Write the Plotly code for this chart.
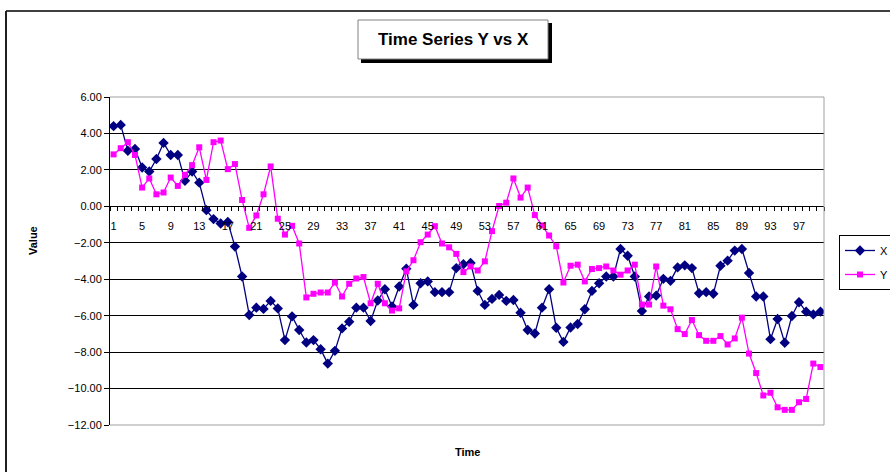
import plotly.graph_objects as go

time = list(range(1, 101))
x_series = [4.40, 4.47, 3.05, 3.15, 2.13, 1.91, 2.60, 3.48, 2.82, 2.82,
            1.40, 1.91, 1.30, -0.21, -0.70, -0.94, -0.86, -2.21, -3.85, -5.96,
            -5.56, -5.63, -5.19, -5.60, -7.34, -6.04, -6.79, -7.47, -7.34, -7.84,
            -8.63, -7.93, -6.70, -6.33, -5.56, -5.56, -6.29, -5.17, -4.55, -5.50,
            -4.40, -3.42, -5.41, -4.22, -4.12, -4.71, -4.71, -4.71, -3.39, -3.18,
            -3.11, -4.64, -5.41, -5.08, -4.86, -5.19, -5.14, -5.84, -6.79, -6.98,
            -5.56, -4.55, -6.66, -7.44, -6.65, -6.46, -5.65, -4.64, -4.22, -3.85,
            -3.85, -2.34, -2.71, -3.85, -5.74, -4.95, -4.90, -3.98, -4.09, -3.35,
            -3.24, -3.39, -4.77, -4.71, -4.80, -3.26, -2.98, -2.43, -2.34, -3.66,
            -4.95, -4.95, -7.29, -6.18, -7.49, -6.02, -5.26, -5.78, -5.93, -5.78]
y_series = [2.85, 3.19, 3.52, 2.82, 1.03, 1.53, 0.66, 0.76, 1.58, 1.12,
            1.73, 2.26, 3.24, 1.45, 3.52, 3.61, 2.04, 2.32, 0.35, -1.18,
            -0.50, 0.66, 2.19, -0.68, -1.55, -1.07, -2.04, -5.00, -4.80, -4.73,
            -4.73, -4.18, -4.95, -4.25, -3.96, -3.88, -5.32, -4.25, -5.32, -5.72,
            -5.60, -3.57, -2.96, -1.97, -1.55, -1.09, -2.04, -2.25, -2.61, -3.61,
            -3.30, -3.52, -3.02, -1.36, 0.02, 0.20, 1.53, 0.48, 1.03, -0.48,
            -1.05, -1.60, -2.19, -4.18, -3.26, -3.20, -4.12, -3.44, -3.39, -3.30,
            -3.52, -3.75, -3.52, -3.20, -5.39, -5.39, -3.30, -5.45, -5.65, -6.74,
            -7.01, -6.24, -7.07, -7.38, -7.38, -7.12, -7.58, -7.25, -6.11, -8.08,
            -9.15, -10.38, -10.23, -11.03, -11.17, -11.17, -10.75, -10.57, -8.63, -8.82]
x_tick_vals = list(range(1, 101, 4))
x_tick_text = [str(v) for v in x_tick_vals]
y_min, y_max, y_step = -12, 6, 2

FONT = "Liberation Sans, Arial, sans-serif"
W, H = 890, 472
L, R, T, B = 110, 66, 97, 47
pw, ph = W - L - R, H - T - B


def px(xp):
    return (xp - L) / pw


def py(yp):
    return (H - B - yp) / ph


fig = go.Figure()
fig.add_trace(go.Scatter(
    x=time, y=x_series, name="X", mode="lines+markers", legendgroup="a",
    line=dict(color="#000080", width=1.3),
    marker=dict(symbol="diamond", size=8, color="#000080")))
fig.add_trace(go.Scatter(
    x=time, y=y_series, name="Y", mode="lines+markers", legendgroup="b",
    line=dict(color="#FF00FF", width=1.3),
    marker=dict(symbol="square", size=6, color="#FF00FF")))

shapes = []
# outer chart frame (top and left)
shapes.append(dict(type="line", xref="paper", yref="paper", x0=px(6), x1=px(900),
                   y0=py(11), y1=py(11), line=dict(color="#404040", width=2)))
shapes.append(dict(type="line", xref="paper", yref="paper", x0=px(6), x1=px(6),
                   y0=py(11), y1=py(480), line=dict(color="#202020", width=2)))
# plot area border (top, right, bottom)
for (a, b, c, d) in [(0, 1, 1, 1), (1, 1, 1, 0), (0, 1, 0, 0)]:
    shapes.append(dict(type="line", xref="paper", yref="paper", x0=a, x1=b, y0=c, y1=d,
                       line=dict(color="#A0A0A0", width=1)))
# title box with shadow
shapes.append(dict(type="rect", xref="paper", yref="paper", x0=px(361), x1=px(552),
                   y0=py(63), y1=py(23), fillcolor="black", line=dict(width=0)))
shapes.append(dict(type="rect", xref="paper", yref="paper", x0=px(358), x1=px(548),
                   y0=py(59), y1=py(20), fillcolor="white", line=dict(color="#808080", width=1)))

annotations = [
    dict(text="<b>Time Series Y vs X</b>", xref="paper", yref="paper", x=px(453), y=py(40),
         showarrow=False, font=dict(family=FONT, size=17, color="black"),
         xanchor="center", yanchor="middle"),
    dict(text="<b>Value</b>", xref="paper", yref="paper", x=px(33), y=py(241),
         showarrow=False, textangle=-90, font=dict(family=FONT, size=11, color="black"),
         xanchor="center", yanchor="middle"),
    dict(text="<b>Time</b>", xref="paper", yref="paper", x=px(467), y=py(452),
         showarrow=False, font=dict(family=FONT, size=11, color="black"),
         xanchor="center", yanchor="middle"),
]

fig.update_layout(
    width=W, height=H,
    margin=dict(l=L, r=R, t=T, b=B, pad=0, autoexpand=False),
    paper_bgcolor="white", plot_bgcolor="white",
    showlegend=True,
    legend=dict(x=px(839), y=py(235), xanchor="left", yanchor="top",
                bordercolor="black", borderwidth=1, bgcolor="white",
                font=dict(family=FONT, size=11, color="black"),
                tracegroupgap=5),
    shapes=shapes,
    annotations=annotations,
    xaxis=dict(
        range=[0.5, 100.5], anchor="free", position=(0 - y_min) / (y_max - y_min),
        showgrid=False, zeroline=False, showline=True, linecolor="black", linewidth=1,
        tickmode="array", tickvals=x_tick_vals, ticktext=x_tick_text, ticks="",
        ticklabelstandoff=9,
        tickfont=dict(family=FONT, size=11, color="black"),
        minor=dict(tickmode="array", tickvals=[i + 0.5 for i in range(0, 101)],
                   ticks="outside", ticklen=4, tickcolor="black", tickwidth=1, showgrid=False),
    ),
    yaxis=dict(
        range=[y_min, y_max], tickmode="linear", tick0=y_min, dtick=y_step,
        tickformat=".2f", showgrid=True, gridcolor="black", gridwidth=1,
        zeroline=False, showline=True, linecolor="black", linewidth=1,
        ticks="outside", ticklen=5, tickcolor="black",
        tickfont=dict(family=FONT, size=11, color="black"),
    ),
)

fig.write_html("out.html", config={"displayModeBar": False},
               post_script="document.body.style.margin='0';document.body.style.overflow='hidden';")
